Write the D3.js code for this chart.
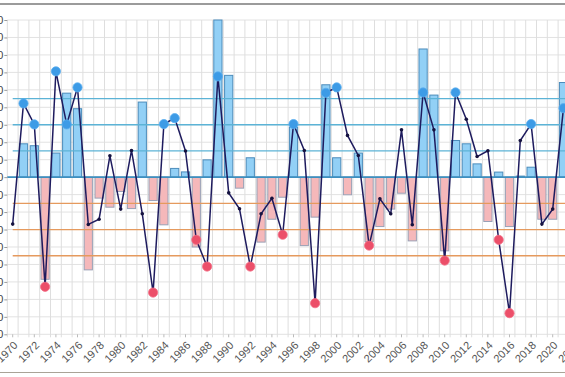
<!DOCTYPE html>
<html><head><meta charset="utf-8">
<script src="https://cdn.jsdelivr.net/npm/d3@7"></script>
<style>body{margin:0;background:#fff;} svg{display:block;font-family:"Liberation Sans",Arial,sans-serif;}</style>
</head><body><svg id="c" width="565" height="377"></svg>
<script>
const years = [1970,1971,1972,1973,1974,1975,1976,1977,1978,1979,1980,1981,1982,1983,1984,1985,1986,1987,1988,1989,1990,1991,1992,1993,1994,1995,1996,1997,1998,1999,2000,2001,2002,2003,2004,2005,2006,2007,2008,2009,2010,2011,2012,2013,2014,2015,2016,2017,2018,2019,2020,2021];
const barValues = [0,19.1,18.0,-58.5,13.8,48.1,39.2,-53.1,-12.0,-17.2,-8.2,-18.0,43.0,-13.4,-27.3,5.0,3.0,-40.0,9.9,90.0,58.3,-6.3,11.1,-37.2,-24.1,-11.5,28.5,-39.2,-22.9,52.9,11.1,-10.1,13.8,-36.9,-28.3,-18.3,-9.2,-36.5,73.4,47.0,-42.2,21.0,19.1,7.6,-25.4,2.9,-28.3,0.6,5.7,-24.1,-24.1,54.2];
const lineValues = [-26.9,42.2,30.2,-62.8,60.6,30.2,51.4,-27.1,-24.1,12.2,-18.3,15.3,-21.0,-66.1,30.4,33.8,15.0,-35.9,-51.2,57.7,-9.0,-18.1,-51.2,-21.0,-12.1,-33.0,30.4,15.3,-72.2,48.3,51.4,23.9,12.4,-39.2,-12.4,-21.0,27.1,-27.3,48.5,27.1,-47.8,48.5,33.2,11.8,15.1,-35.9,-77.9,21.0,30.4,-26.9,-18.3,39.5];
const blueMarkYears = [1971,1972,1974,1975,1976,1984,1985,1989,1996,1999,2000,2008,2011,2018,2021];
const redMarkYears = [1973,1983,1987,1988,1992,1995,1998,2003,2010,2015,2016];
const yTicks = [-90,-80,-70,-60,-50,-40,-30,-20,-10,0,10,20,30,40,50,60,70,80,90];
const xTickYears = [1970,1972,1974,1976,1978,1980,1982,1984,1986,1988,1990,1992,1994,1996,1998,2000,2002,2004,2006,2008,2010,2012,2014,2016,2018,2020,2022];
const upperLines = [15,30,45];
const lowerLines = [-15,-30,-45];

(function(){
const W = 565, H = 377;
const svg = d3.select("#c");
const pLeft = 7.3, pTop = 20, pBottom = 334.3, step = 10.8;
const bandYears = years.concat([2022]);
const x = d3.scaleBand().domain(bandYears).range([pLeft, pLeft + step*bandYears.length]).padding(0);
const y = d3.scaleLinear().domain([-90, 90]).range([pBottom, pTop]);
const bw = x.bandwidth();
const cx = d => x(d) + bw/2;
const pRight = W + 20;

// frame lines
svg.append("line").attr("x1",0).attr("x2",W).attr("y1",4).attr("y2",4).attr("stroke","#7a7a7a").attr("stroke-width",1.5);
svg.append("line").attr("x1",0).attr("x2",W).attr("y1",372.5).attr("y2",372.5).attr("stroke","#a9a397").attr("stroke-width",1.2);

// grid
const g = svg.append("g");
g.selectAll(".hg").data(yTicks).join("line")
  .attr("x1",pLeft).attr("x2",pRight).attr("y1",d=>y(d)).attr("y2",d=>y(d))
  .attr("stroke","#e2e2e2").attr("stroke-width",1);
g.selectAll(".vg").data(bandYears.concat([2023])).join("line")
  .attr("x1",d=>pLeft + (d-1970)*step).attr("x2",d=>pLeft + (d-1970)*step)
  .attr("y1",pTop).attr("y2",pBottom+3)
  .attr("stroke","#dedede").attr("stroke-width",1);

// bars
svg.selectAll(".bar").data(years.map((yr,i)=>({yr, v:barValues[i]})).filter(d=>d.v!==0)).join("rect")
  .attr("x",d=>cx(d.yr)-4.1).attr("width",8.2)
  .attr("y",d=>y(Math.max(0,d.v))).attr("height",d=>Math.abs(y(d.v)-y(0)))
  .attr("fill",d=>d.v>0?"#92d0f6":"#f5b8ba")
  .attr("stroke",d=>d.v>0?"#4c8cbb":"#9aa1b6").attr("stroke-width",1);

// reference lines
const x0 = cx(1970);
svg.selectAll(".ul").data(upperLines).join("line")
  .attr("x1",x0).attr("x2",pRight).attr("y1",d=>y(d)).attr("y2",d=>y(d))
  .attr("stroke","#5cb3d6").attr("stroke-width",1.3);
svg.selectAll(".ll").data(lowerLines).join("line")
  .attr("x1",x0).attr("x2",pRight).attr("y1",d=>y(d)).attr("y2",d=>y(d))
  .attr("stroke","#e59a5e").attr("stroke-width",1.3);
svg.append("line").attr("x1",pLeft).attr("x2",pRight).attr("y1",y(0)).attr("y2",y(0))
  .attr("stroke","#3e8fbf").attr("stroke-width",1.6);

// line
const pts = years.map((yr,i)=>({yr, v:lineValues[i]}));
svg.append("path").datum(pts)
  .attr("d", d3.line().x(d=>cx(d.yr)).y(d=>y(d.v)))
  .attr("fill","none").attr("stroke","#1e1b5e").attr("stroke-width",1.5);
svg.selectAll(".dot").data(pts).join("circle")
  .attr("cx",d=>cx(d.yr)).attr("cy",d=>y(d.v)).attr("r",1.8).attr("fill","#15123f");

// marked circles
const markData = pts.filter(d=>blueMarkYears.includes(d.yr)||redMarkYears.includes(d.yr));
svg.selectAll(".mk").data(markData).join("circle")
  .attr("cx",d=>cx(d.yr)).attr("cy",d=>y(d.v)).attr("r",4.6)
  .attr("fill",d=>blueMarkYears.includes(d.yr)?"#3d9be6":"#ec4f69")
  .attr("stroke",d=>blueMarkYears.includes(d.yr)?"#5aaef0":"#f27088").attr("stroke-width",0.8);

// axes
const ya = svg.append("g").attr("transform",`translate(${pLeft},0)`)
  .call(d3.axisLeft(y).tickValues(yTicks).tickSize(3).tickPadding(1).tickFormat(d3.format("d")));
ya.select(".domain").remove();
ya.selectAll("line").attr("stroke","#999");
ya.selectAll("text").attr("font-size",11).attr("fill","#444");

const xa = svg.append("g").attr("transform",`translate(0,${pBottom})`)
  .call(d3.axisBottom(x).tickValues(xTickYears).tickSize(3));
xa.select(".domain").remove();
xa.selectAll("line").attr("stroke","#bbb");
xa.selectAll("text").attr("font-size",11).attr("fill","#555")
  .attr("text-anchor","end").attr("x",0).attr("y",0).attr("dy","0.35em")
  .attr("transform","translate(3,9) rotate(-45)");
})();
</script></body></html>
